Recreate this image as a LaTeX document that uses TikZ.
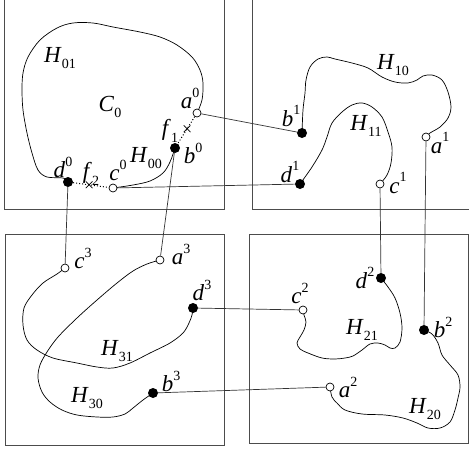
\documentclass[tikz,border=0pt]{standalone}
\usepackage{fontspec}
\setmainfont{Liberation Serif}
\usepackage{tikz}
\usetikzlibrary{positioning, shapes.misc, backgrounds}

\newcommand{\lblfont}{\fontsize{23}{25}\selectfont}
\newcommand{\supx}[2]{\textit{#1}\raisebox{0.48em}{\fontsize{14}{14}\selectfont #2}}
\newcommand{\subx}[2]{\textit{#1}\raisebox{-0.28em}{\fontsize{14}{14}\selectfont #2}}

\begin{document}
\begin{tikzpicture}[
    x=1pt, y=-1pt,
    openpt/.style={circle, draw, fill=white, line width=0.7pt, inner sep=0pt, minimum size=8pt},
    fullpt/.style={circle, fill=black, inner sep=0pt, minimum size=10pt},
    lbl/.style={inner sep=0pt, font=\lblfont},
    frame/.style={draw=black!70, line width=1pt},
    hole/.style={line width=0.7pt, smooth, tension=0.55},
    link/.style={draw=black!80, line width=0.7pt},
    cut/.style={dotted, line width=1pt},
    crossmk/.style={cross out, draw, solid, minimum size=6pt, inner sep=0pt, line width=0.7pt}
]
\useasboundingbox (0,0) rectangle (469,450);

% the four cells
\draw[frame] (4,0) -- (4,209) -- (224,209) -- (224,0);
\draw[frame] (252,0) -- (252,209) -- (469,209);
\draw[frame] (5,234) rectangle (224,445);
\draw[frame] (249,234) rectangle (468,443);

% cell 0
\node[openpt] (a0) at (197,113) {};
\node[fullpt] (b0) at (175,148) {};
\node[openpt] (c0) at (113,188) {};
\node[fullpt] (d0) at (68,182) {};
\node[lbl] (la0) at (190,98) {\supx{a}{0}};
\node[lbl] (lb0) at (193,153) {\supx{b}{0}};
\node[lbl] (lc0) at (118,170) {\supx{c}{0}};
\node[lbl] (ld0) at (63,167) {\supx{d}{0}};
\node[lbl] (lf1) at (170,131) {\subx{f}{1}};
\node[lbl] (lf2) at (91,174) {\subx{f}{2}};
\node[lbl] (lh01) at (60,58) {\subx{H}{01}};
\node[lbl] (lh00) at (146,158) {\subx{H}{00}};
\node[lbl] (lc) at (110,107) {\subx{C}{0}};

% cell 1
\node[openpt] (a1) at (426,137) {};
\node[fullpt] (b1) at (302,133) {};
\node[openpt] (c1) at (380,184) {};
\node[fullpt] (d1) at (300,184) {};
\node[lbl] (la1) at (440,143) {\supx{a}{1}};
\node[lbl] (lb1) at (291,116) {\supx{b}{1}};
\node[lbl] (lc1) at (398,183) {\supx{c}{1}};
\node[lbl] (ld1) at (290,172) {\supx{d}{1}};
\node[lbl] (lh10) at (393,65) {\subx{H}{10}};
\node[lbl] (lh11) at (366,126) {\subx{H}{11}};

% cell 2
\node[openpt] (a2) at (330,387) {};
\node[fullpt] (b2) at (424,330) {};
\node[openpt] (c2) at (303,310) {};
\node[fullpt] (d2) at (381,278) {};
\node[lbl] (la2) at (348,387) {\supx{a}{2}};
\node[lbl] (lb2) at (443,327) {\supx{b}{2}};
\node[lbl] (lc2) at (300,293) {\supx{c}{2}};
\node[lbl] (ld2) at (365,278) {\supx{d}{2}};
\node[lbl] (lh21) at (362,330) {\subx{H}{21}};
\node[lbl] (lh20) at (425,409) {\subx{H}{20}};

% cell 3
\node[openpt] (a3) at (160,260) {};
\node[fullpt] (b3) at (153,393) {};
\node[openpt] (c3) at (65,268) {};
\node[fullpt] (d3) at (193,308) {};
\node[lbl] (la3) at (181,254) {\supx{a}{3}};
\node[lbl] (lb3) at (171,381) {\supx{b}{3}};
\node[lbl] (lc3) at (83,258) {\supx{c}{3}};
\node[lbl] (ld3) at (202,290) {\supx{d}{3}};
\node[lbl] (lh31) at (117,351) {\subx{H}{31}};
\node[lbl] (lh30) at (87,398) {\subx{H}{30}};

\begin{scope}[on background layer]
\draw[hole] plot coordinates {(a0) (202,100) (203,83) (200,70) (192,57) (177,45) (160,37) (140,32) (113,27) (93,23) (73,23) (57,28) (40,40) (28,57) (23,73) (22,90) (23,110) (27,133) (32,153) (38,170) (47,177) (63,178) (d0)};
\draw[hole] plot coordinates {(c0) (133,185) (150,181) (163,173) (170,162) (b0)};
\draw[hole] plot coordinates {(b1) (303,110) (305,93) (306,80) (310,67) (318,59) (327,57) (335,59) (352,63) (368,68) (382,77) (395,82) (408,83) (417,80) (423,76) (432,75) (442,80) (448,92) (451,107) (448,118) (440,127) (430,133) (a1)};
\draw[hole] plot coordinates {(d1) (312,167) (322,150) (327,137) (332,123) (342,112) (352,105) (362,103) (372,107) (382,117) (388,132) (392,147) (391,163) (387,175) (c1)};
\draw[hole] plot coordinates {(d2) (388,287) (395,298) (400,313) (402,328) (400,342) (395,348) (390,348) (385,345) (378,343) (370,344) (362,350) (353,356) (345,358) (335,359) (322,358) (308,353) (300,349) (297,343) (300,337) (304,330) (306,322) (304,315) (c2)};
\draw[hole] plot coordinates {(b2) (432,334) (438,343) (442,355) (450,365) (458,375) (460,387) (458,398) (455,410) (450,422) (440,428) (428,428) (417,423) (403,418) (385,415) (362,414) (345,410) (337,403) (332,397) (a2)};
\draw[hole] plot coordinates {(c3) (57,274) (43,283) (32,295) (24,308) (23,325) (27,340) (37,350) (53,358) (77,363) (97,367) (113,368) (130,363) (150,353) (170,343) (183,333) (189,323) (192,315) (d3)};
\draw[hole] plot coordinates {(a3) (147,264) (133,271) (117,283) (97,300) (77,318) (58,337) (47,352) (40,365) (38,378) (42,392) (50,402) (62,410) (77,415) (97,417) (113,417) (125,414) (133,408) (143,400) (b3)};
\end{scope}

\draw[cut] (a0) -- node[crossmk, pos=.45] (f1) {} (b0);
\draw[cut] (d0) -- node[crossmk, pos=.45] (f2) {} (c0);

\draw[link] (a0) -- (b1);
\draw[link] (c0) -- (d1);
\draw[link] (d0) -- (c3);
\draw[link] (b0) -- (a3);
\draw[link] (c1) -- (d2);
\draw[link] (a1) -- (b2);
\draw[link] (d3) -- (c2);
\draw[link] (b3) -- (a2);
\end{tikzpicture}
\end{document}
